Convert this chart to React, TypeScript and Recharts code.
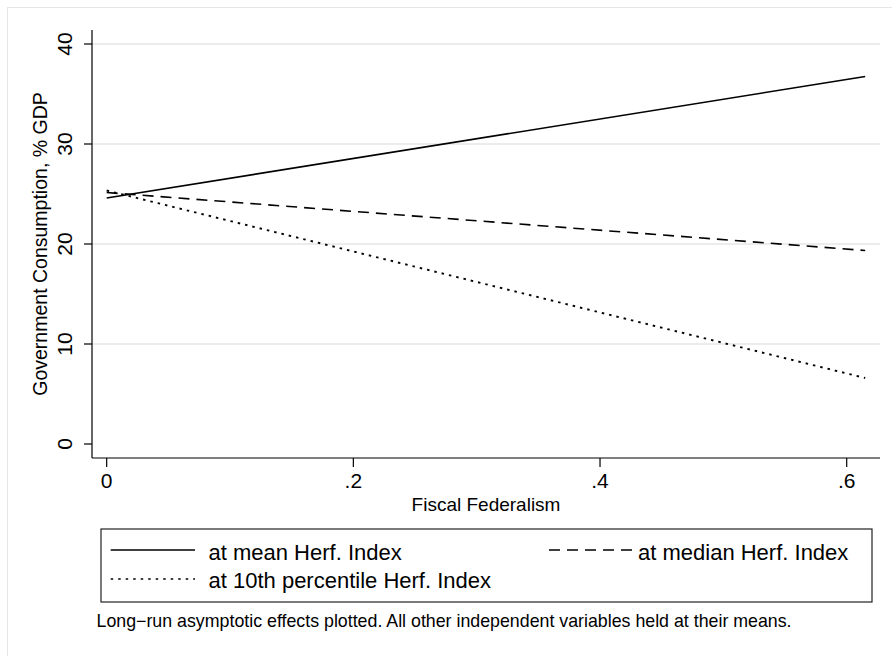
import React from 'react';
import { LineChart, Line, XAxis, YAxis, ReferenceLine, Legend, Label } from 'recharts';

const xValues = [0, 0.615];
const meanValues = [24.6, 36.75];
const medianValues = [25.15, 19.35];
const p10Values = [25.35, 6.6];

const xTicks = [0, 0.2, 0.4, 0.6];
const yTicks = [0, 10, 20, 30, 40];
const gridValues = [10, 20, 30, 40];

const seriesNames = ['at mean Herf. Index', 'at median Herf. Index', 'at 10th percentile Herf. Index'];
const seriesKeys = ['mean', 'median', 'p10'];
const seriesDash = ['', '11 7', '2.5 5'];

const xTitle = 'Fiscal Federalism';
const yTitle = 'Government Consumption, % GDP';
const caption = 'Long\u2212run asymptotic effects plotted. All other independent variables held at their means.';

const data = xValues.map((x, i) => ({ x, mean: meanValues[i], median: medianValues[i], p10: p10Values[i] }));

const FONT = '"Liberation Sans", Arial, Helvetica, sans-serif';

const fmtX = (v: number) => (v === 0 ? '0' : String(v).replace(/^0/, ''));

const XTick = (props: any) => {
  const { x, y, payload } = props;
  return (
    <text x={x} y={y + 21} textAnchor="middle" fontFamily={FONT} fontSize={21} fill="#000">
      {fmtX(payload.value)}
    </text>
  );
};

const YTick = (props: any) => {
  const { x, y, payload } = props;
  const bx = x - 12;
  return (
    <text x={bx} y={y} textAnchor="middle" transform={`rotate(-90, ${bx}, ${y})`} fontFamily={FONT} fontSize={21} fill="#000">
      {payload.value}
    </text>
  );
};

const LEG_TOP = 518;
const legendPos = [
  { lx1: 110.7, lx2: 195, tx: 208.5, ly: 550, ty: 559.5 },
  { lx1: 549, lx2: 633, tx: 638, ly: 550, ty: 559.5 },
  { lx1: 110.7, lx2: 195, tx: 208.5, ly: 579, ty: 588 },
];

const LegendContent = (props: any) => {
  const payload = props.payload || [];
  return (
    <svg width={892} height={122} style={{ display: 'block' }}>
      <rect x={101} y={529 - LEG_TOP} width={771} height={73} fill="#fff" stroke="#222" strokeWidth={1.2} />
      {payload.map((p: any, i: number) => {
        const idx = seriesKeys.indexOf(p.dataKey);
        const k = idx >= 0 ? idx : i;
        const pos = legendPos[k];
        const dash = seriesDash[k];
        return (
          <g key={i}>
            <line x1={pos.lx1} x2={pos.lx2} y1={pos.ly - LEG_TOP} y2={pos.ly - LEG_TOP} stroke="#000" strokeWidth={1.6} strokeDasharray={dash || undefined} />
            <text x={pos.tx} y={pos.ty - LEG_TOP} fontFamily={FONT} fontSize={22} fill="#000">{p.value}</text>
          </g>
        );
      })}
      <text x={96.5} y={626.7 - LEG_TOP} fontFamily={FONT} fontSize={17.8} fill="#000">{caption}</text>
    </svg>
  );
};

export default function App() {
  return (
    <div style={{ position: 'absolute', left: 0, top: 0, width: 892, height: 656, overflow: 'hidden', background: '#fff' }}>
      <div style={{ position: 'absolute', left: 7, top: 7, width: 950, height: 750, border: '1px solid #e6e6e6' }} />
      <div style={{ position: 'absolute', left: 0, top: 0 }}>
        <LineChart width={892} height={656} data={data} margin={{ top: 30, right: 12, left: 0, bottom: 16 }}>
          {gridValues.map((g) => (
            <ReferenceLine key={g} y={g} stroke="#e6e6e6" strokeWidth={1.4} ifOverflow="hidden" />
          ))}
          <XAxis
            type="number"
            dataKey="x"
            domain={[-0.0119, 0.627]}
            ticks={xTicks}
            allowDataOverflow
            height={60}
            tickSize={9}
            tickMargin={0}
            tick={XTick}
            axisLine={{ stroke: '#000', strokeWidth: 1.2 }}
            tickLine={{ stroke: '#000', strokeWidth: 1.2 }}
          >
            <Label
              content={(p: any) => {
                const vb = p.viewBox || {};
                return (
                  <text x={vb.x + vb.width / 2} y={vb.y + 52.7} textAnchor="middle" fontFamily={FONT} fontSize={19} fill="#000">
                    {xTitle}
                  </text>
                );
              }}
            />
          </XAxis>
          <YAxis
            type="number"
            domain={[-1.4, 41.4]}
            ticks={yTicks}
            allowDataOverflow
            width={92}
            tickSize={8}
            tickMargin={0}
            tick={YTick}
            axisLine={{ stroke: '#000', strokeWidth: 1.2 }}
            tickLine={{ stroke: '#000', strokeWidth: 1.2 }}
          >
            <Label
              content={(p: any) => {
                const vb = p.viewBox || {};
                const cx = 47;
                const cy = vb.y + vb.height / 2;
                return (
                  <text x={cx} y={cy} textAnchor="middle" transform={`rotate(-90, ${cx}, ${cy})`} fontFamily={FONT} fontSize={19.5} fill="#000">
                    {yTitle}
                  </text>
                );
              }}
            />
          </YAxis>
          {seriesKeys.map((k, i) => (
            <Line
              key={k}
              type="linear"
              dataKey={k}
              name={seriesNames[i]}
              stroke="#000"
              strokeWidth={i === 2 ? 1.9 : 1.6}
              strokeDasharray={seriesDash[i] || undefined}
              dot={false}
              activeDot={false}
              isAnimationActive={false}
            />
          ))}
          <Legend
            verticalAlign="bottom"
            align="left"
            height={122}
            width={892}
            wrapperStyle={{ left: 0 }}
            itemSorter={(item: any) => seriesKeys.indexOf(item.dataKey)}
            content={LegendContent}
          />
        </LineChart>
      </div>
    </div>
  );
}
